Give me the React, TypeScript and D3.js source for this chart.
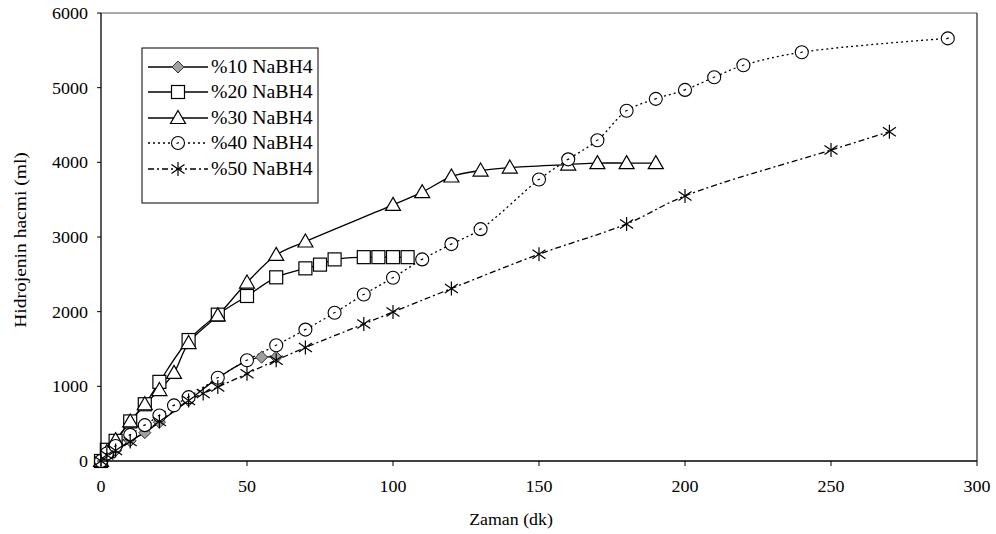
import React from "react";
import * as d3 from "d3";

const W = 996;
const H = 534;

const xTicks = [0, 50, 100, 150, 200, 250, 300];
const yTicks = [0, 1000, 2000, 3000, 4000, 5000, 6000];

const x10 = [0, 2, 5, 10, 15, 20, 30, 40, 50, 55, 60];
const y10 = [0, 60, 140, 270, 380, 520, 810, 1110, 1340, 1390, 1390];

const x20 = [0, 2, 5, 10, 15, 20, 30, 40, 50, 60, 70, 75, 80, 90, 95, 100, 105];
const y20 = [0, 150, 270, 530, 760, 1060, 1620, 1960, 2210, 2460, 2580, 2630, 2700, 2730, 2730, 2730, 2730];

const x30 = [0, 2, 5, 10, 15, 20, 25, 30, 40, 50, 60, 70, 100, 110, 120, 130, 140, 160, 170, 180, 190];
const y30 = [0, 120, 280, 530, 760, 950, 1180, 1580, 1950, 2390, 2760, 2940, 3430, 3600, 3810, 3890, 3930, 3970, 3990, 3990, 3990];

const x40 = [0, 2, 5, 10, 15, 20, 25, 30, 40, 50, 60, 70, 80, 90, 100, 110, 120, 130, 150, 160, 170, 180, 190, 200, 210, 220, 240, 290];
const y40 = [0, 100, 200, 350, 480, 610, 745, 855, 1115, 1350, 1550, 1760, 1985, 2230, 2455, 2700, 2905, 3105, 3770, 4040, 4295, 4690, 4850, 4970, 5140, 5300, 5475, 5660];

const x50 = [0, 2, 5, 10, 20, 30, 35, 40, 50, 60, 70, 90, 100, 120, 150, 180, 200, 250, 270];
const y50 = [0, 80, 140, 260, 530, 810, 905, 990, 1170, 1350, 1520, 1835, 1995, 2310, 2770, 3175, 3550, 4165, 4410];

const seriesNames = ["%10 NaBH4", "%20 NaBH4", "%30 NaBH4", "%40 NaBH4", "%50 NaBH4"];

const FONT = "'Liberation Serif', 'Times New Roman', serif";

type Sym = "diamond" | "square" | "triangle" | "circle" | "star";

const series = [
  { name: seriesNames[0], xs: x10, ys: y10, sym: "diamond" as Sym, dash: "" },
  { name: seriesNames[1], xs: x20, ys: y20, sym: "square" as Sym, dash: "" },
  { name: seriesNames[2], xs: x30, ys: y30, sym: "triangle" as Sym, dash: "" },
  { name: seriesNames[3], xs: x40, ys: y40, sym: "circle" as Sym, dash: "2,3" },
  { name: seriesNames[4], xs: x50, ys: y50, sym: "star" as Sym, dash: "6,3,2,3" },
];

function Marker({ sym, cx, cy }: { sym: Sym; cx: number; cy: number }) {
  const t = `translate(${cx},${cy})`;
  if (sym === "diamond") {
    return <path transform={t} d="M0,-6L6,0L0,6L-6,0Z" fill="#a0a0a0" stroke="#333" strokeWidth={1} />;
  }
  if (sym === "square") {
    return <rect transform={t} x={-6.5} y={-6.5} width={13} height={13} fill="#fff" stroke="#000" strokeWidth={1.2} />;
  }
  if (sym === "triangle") {
    return <path transform={t} d="M0,-7.5L7.5,5.5L-7.5,5.5Z" fill="#fff" stroke="#000" strokeWidth={1.2} />;
  }
  if (sym === "circle") {
    return (
      <g transform={t}>
        <circle r={6.5} fill="#fff" stroke="#000" strokeWidth={1.1} />
        <line x1={-1.5} y1={0.5} x2={1} y2={-0.5} stroke="#000" strokeWidth={1.2} />
      </g>
    );
  }
  return (
    <g transform={t} stroke="#000" strokeWidth={1.2}>
      <line x1={0} y1={-7} x2={0} y2={7} />
      <line x1={-6.5} y1={-4.5} x2={6.5} y2={4.5} />
      <line x1={-6.5} y1={4.5} x2={6.5} y2={-4.5} />
    </g>
  );
}

function SText({
  x,
  y,
  sx,
  size,
  anchor,
  rotate,
  children,
}: {
  x: number;
  y: number;
  sx: number;
  size: number;
  anchor?: string;
  rotate?: number;
  children: React.ReactNode;
}) {
  return (
    <text
      transform={`translate(${x},${y})${rotate ? ` rotate(${rotate})` : ""} scale(${sx},1)`}
      textAnchor={anchor || "start"}
      fontSize={size}
      fill="#000"
    >
      {children}
    </text>
  );
}

export default function App() {
  const left = 101;
  const right = 977;
  const top = 13;
  const bottom = 461;
  const x = d3.scaleLinear().domain([0, 300]).range([left, right]);
  const y = d3.scaleLinear().domain([0, 6000]).range([bottom, top]);

  const line = d3
    .line<[number, number]>()
    .x((d) => x(d[0]))
    .y((d) => y(d[1]))
    .curve(d3.curveCatmullRom.alpha(0.5));

  const legX = 142;
  const legY = 48;
  const legW = 176;
  const legH = 155;
  const rowY = [67, 92, 118, 143, 169];

  return (
    <svg width={W} height={H} style={{ position: "absolute", left: 0, top: 0, background: "#fff" }} fontFamily={FONT}>
      <rect x={0} y={0} width={W} height={H} fill="#fff" />
      <line x1={left} y1={top} x2={right} y2={top} stroke="#555" strokeWidth={1} />
      <line x1={right} y1={top} x2={right} y2={bottom} stroke="#222" strokeWidth={1.2} />
      {series.map((s, i) => (
        <path
          key={"l" + i}
          d={line(s.xs.map((v, j) => [v, s.ys[j]] as [number, number])) || ""}
          fill="none"
          stroke="#000"
          strokeWidth={1.3}
          strokeDasharray={s.dash || undefined}
        />
      ))}
      {series.map((s, i) => (
        <g key={"m" + i}>
          {s.xs.map((v, j) => (
            <Marker key={j} sym={s.sym} cx={x(v)} cy={y(s.ys[j])} />
          ))}
        </g>
      ))}
      <line x1={left} y1={top} x2={left} y2={bottom} stroke="#000" strokeWidth={1.3} />
      <line x1={left} y1={bottom} x2={right} y2={bottom} stroke="#000" strokeWidth={1.3} />
      {yTicks.map((t) => (
        <g key={"yt" + t}>
          <line x1={left - 4} x2={left} y1={y(t)} y2={y(t)} stroke="#000" strokeWidth={1} />
          <SText x={88} y={y(t) + 6} sx={1.06} size={17} anchor="end">
            {t}
          </SText>
        </g>
      ))}
      {xTicks.map((t) => (
        <g key={"xt" + t}>
          <line x1={x(t)} x2={x(t)} y1={bottom} y2={bottom + 5} stroke="#000" strokeWidth={1} />
          <SText x={x(t)} y={bottom + 31} sx={1.06} size={17} anchor="middle">
            {t}
          </SText>
        </g>
      ))}
      <SText x={511} y={525} sx={1.05} size={17} anchor="middle">
        Zaman (dk)
      </SText>
      <SText x={26} y={240} sx={1.15} size={17} anchor="middle" rotate={-90}>
        Hidrojenin hacmi (ml)
      </SText>
      <rect x={legX} y={legY} width={legW} height={legH} fill="#fff" stroke="#000" strokeWidth={1} />
      {series.map((s, i) => (
        <g key={"lg" + i}>
          <line
            x1={148}
            x2={208}
            y1={rowY[i]}
            y2={rowY[i]}
            stroke="#000"
            strokeWidth={1.3}
            strokeDasharray={s.dash || undefined}
          />
          <Marker sym={s.sym} cx={178} cy={rowY[i]} />
          <SText x={211} y={rowY[i] + 6} sx={1.1} size={18}>
            {s.name}
          </SText>
        </g>
      ))}
    </svg>
  );
}
